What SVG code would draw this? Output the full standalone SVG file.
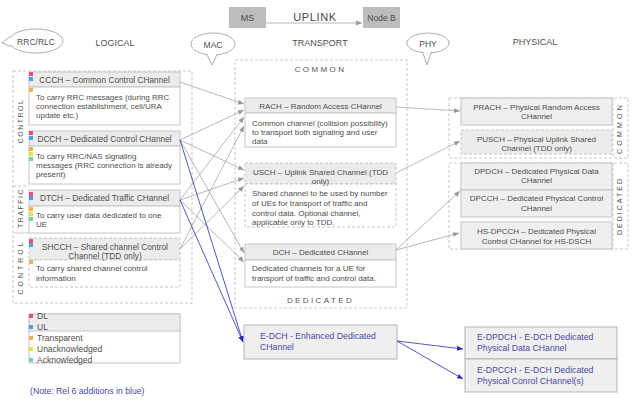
<svg xmlns="http://www.w3.org/2000/svg" width="640" height="404" viewBox="0 0 640 404">
<defs>
<marker id="ag" markerUnits="userSpaceOnUse" markerWidth="6" markerHeight="5" refX="6" refY="2.5" orient="auto"><path d="M0,0 L6,2.5 L0,5 z" fill="#9a9a9a"/></marker>
<marker id="ab" markerUnits="userSpaceOnUse" markerWidth="6" markerHeight="5" refX="6" refY="2.5" orient="auto"><path d="M0,0 L6,2.5 L0,5 z" fill="#2a2ab8"/></marker>
<style>
text{font-family:"Liberation Sans",Arial,sans-serif;font-size:8px;fill:#4e4e4e}
.c{text-anchor:middle}
.lbl{font-size:9px;fill:#505050}
.hdr{fill:#ececec;stroke:#c6c6c6;stroke-width:1}
.bdy{fill:#fff;stroke:#c6c6c6;stroke-width:1}
.dh{fill:#ececec;stroke:#c6c6c6;stroke-width:1;stroke-dasharray:3,2}
.db{fill:#fff;stroke:#c6c6c6;stroke-width:1;stroke-dasharray:3,2}
.reg{fill:none;stroke:#c8c8c8;stroke-width:1;stroke-dasharray:3,2}
.ph{fill:#efefef;stroke:#c2c2c2;stroke-width:1}
.eb{fill:#efefef;stroke:#b4b4b4;stroke-width:1}
.bt{fill:#4a4aa8;font-size:8.7px}
.sp{font-size:7px;letter-spacing:1.5px;fill:#555}
.sp2{font-size:8px;letter-spacing:2.4px;fill:#555}
.conn line{stroke:#a4a4a4;stroke-width:0.8;marker-end:url(#ag)}
.conn line.b{stroke:#2a2ab8;stroke-width:0.8;marker-end:url(#ab)}
.r{fill:#e8507a}.u{fill:#46a0e6}.o{fill:#f2b24e}.y{fill:#e2e63c}.g{fill:#6fd4a4}
.bub{fill:#fff;stroke:#9a9a9a;stroke-width:0.8}
</style>
</defs>
<rect width="640" height="404" fill="#fff"/>

<!-- top -->
<g id="ms"><rect x="229" y="7" width="37" height="21" fill="#bdbdbd"/><text x="247.5" y="21" class="c" style="font-size:9px">MS</text></g>
<g id="nodeb"><rect x="363" y="7" width="37" height="21" fill="#bdbdbd"/><text x="381.5" y="21" class="c" style="font-size:8.5px">Node B</text></g>
<text x="315" y="21" class="c" style="font-size:11px;letter-spacing:0.6px;fill:#4a4a4a">UPLINK</text>

<!-- callouts -->
<g id="rrc"><ellipse cx="36" cy="41" rx="27" ry="12" class="bub"/><path d="M10,37 L2,43 L11,46" fill="#fff" stroke="none"/><path d="M10.2,36.5 L2,43 L11,46.5" fill="none" stroke="#9a9a9a" stroke-width="0.8"/><text x="36" y="44.5" class="c" style="font-size:8.5px">RRC/RLC</text></g>
<g id="mac"><ellipse cx="213" cy="44" rx="22" ry="11" class="bub"/><path d="M207,54 L212,65 L217,54" fill="#fff" stroke="none"/><path d="M206.5,53.8 L212,65 L217,54.3" fill="none" stroke="#9a9a9a" stroke-width="0.8"/><text x="213" y="47.5" class="c" style="font-size:8.5px">MAC</text></g>
<g id="phy"><ellipse cx="428" cy="43" rx="21" ry="10" class="bub"/><path d="M423,52 L427,65 L431,52" fill="#fff" stroke="none"/><path d="M422.5,51.8 L427,65 L431.5,52" fill="none" stroke="#9a9a9a" stroke-width="0.8"/><text x="428" y="46.5" class="c" style="font-size:8.5px">PHY</text></g>

<text x="115" y="46" class="c lbl">LOGICAL</text>
<text x="320" y="46" class="c lbl">TRANSPORT</text>
<text x="535" y="45" class="c lbl">PHYSICAL</text>

<!-- logical region -->
<g id="logical">
<rect x="13" y="71" width="179" height="232" class="reg"/>
<line x1="13" y1="186" x2="29" y2="186" stroke="#c8c8c8" stroke-dasharray="3,2"/>
<line x1="13" y1="233" x2="29" y2="233" stroke="#c8c8c8"/>
<text transform="translate(23,121) rotate(-90)" class="c sp">CONTROL</text>
<text transform="translate(23,208) rotate(-90)" class="c sp">TRAFFIC</text>
<text transform="translate(23,267) rotate(-90)" class="c sp" style="letter-spacing:3px">CONTROL</text>
</g>

<g id="ccch">
<rect x="29" y="72" width="151" height="15" class="hdr"/><rect x="29" y="87" width="151" height="38" class="bdy"/>
<text x="104.5" y="82.5" class="c" style="font-size:8.3px">CCCH – Common Control CHannel</text>
<text x="36" y="100">To carry RRC messages (during RRC</text>
<text x="36" y="109">connection establishment, cell/URA</text>
<text x="36" y="117.5">update etc.)</text>
<rect x="29" y="72" width="4" height="4" class="r"/><rect x="29" y="77" width="4" height="4" class="u"/><rect x="29" y="88" width="4" height="4" class="o"/>
</g>
<g id="dcch">
<rect x="29" y="131" width="151" height="15" class="hdr"/><rect x="29" y="146" width="151" height="38" class="bdy"/>
<text x="104.5" y="141.5" class="c" style="font-size:8.3px">DCCH – Dedicated Control CHannel</text>
<text x="36" y="159">To carry RRC/NAS signaling</text>
<text x="36" y="168">messages (RRC connection is already</text>
<text x="36" y="177">present)</text>
<rect x="29" y="131" width="4" height="4" class="r"/><rect x="29" y="136" width="4" height="4" class="u"/><rect x="29" y="147" width="4" height="4" class="o"/><rect x="29" y="152" width="4" height="4" class="y"/><rect x="29" y="157" width="4" height="4" class="g"/>
</g>
<g id="dtch">
<rect x="29" y="190" width="151" height="16" class="hdr"/><rect x="29" y="206" width="151" height="27" class="bdy"/>
<text x="104.5" y="201" class="c" style="font-size:8.3px">DTCH – Dedicated Traffic CHannel</text>
<text x="36" y="218">To carry user data dedicated to one</text>
<text x="36" y="226.5">UE</text>
<rect x="29" y="192" width="4" height="4" class="r"/><rect x="29" y="196" width="4" height="4" class="u"/><rect x="29" y="207" width="4" height="4" class="o"/><rect x="29" y="212" width="4" height="4" class="y"/><rect x="29" y="217" width="4" height="4" class="g"/>
</g>
<g id="shcch">
<rect x="29" y="238" width="151" height="22" class="dh"/><rect x="29" y="260" width="151" height="27" class="db"/>
<text x="105" y="250" class="c" style="font-size:8.3px">SHCCH – Shared channel Control</text>
<text x="105" y="259" class="c" style="font-size:8.3px">Channel (TDD only)</text>
<text x="36" y="271">To carry shared channel control</text>
<text x="36" y="281">information</text>
<rect x="29" y="239" width="4" height="4" class="r"/><rect x="29" y="243" width="4" height="4" class="u"/><rect x="29" y="260" width="4" height="4" class="o"/>
</g>

<g id="legend">
<rect x="29" y="314" width="151" height="49" class="bdy"/><rect x="29" y="314" width="151" height="17" class="hdr"/>
<rect x="29" y="314" width="4" height="4" class="r"/><text x="37" y="319" style="font-size:8.5px">DL</text>
<rect x="29" y="325" width="4" height="4" class="u"/><text x="37" y="330" style="font-size:8.5px">UL</text>
<rect x="29" y="336" width="4" height="4" class="o"/><text x="37" y="341" style="font-size:8.5px">Transparent</text>
<rect x="29" y="347" width="4" height="4" class="y"/><text x="37" y="352" style="font-size:8.5px">Unacknowledged</text>
<rect x="29" y="358" width="4" height="4" class="g"/><text x="37" y="363" style="font-size:8.5px">Acknowledged</text>
</g>
<text x="30" y="394" class="bt">(Note: Rel 6 additions in blue)</text>

<!-- transport -->
<g id="transport">
<rect x="235" y="60" width="172" height="248" class="reg"/>
<text x="320.5" y="72" class="c sp2">COMMON</text>
<text x="320.5" y="303" class="c sp2">DEDICATED</text>
</g>
<g id="rach">
<rect x="245" y="98" width="151" height="15" class="hdr"/><rect x="245" y="113" width="151" height="34" class="bdy"/>
<text x="320.5" y="109" class="c">RACH – Random Access CHannel</text>
<text x="252" y="126">Common channel (collision possibility)</text>
<text x="252" y="135">to transport both signaling and user</text>
<text x="252" y="144">data</text>
</g>
<g id="usch">
<rect x="245" y="163" width="151" height="21" class="dh"/><rect x="245" y="184" width="151" height="43" class="db"/>
<text x="320.5" y="175" class="c">USCH – Uplink Shared Channel (TDD</text>
<text x="320.5" y="184" class="c">only)</text>
<text x="252" y="196">Shared channel to be used by number</text>
<text x="252" y="206">of UEs for transport of traffic and</text>
<text x="252" y="216">control data. Optional channel,</text>
<text x="252" y="225">applicable only to TDD.</text>
</g>
<g id="dch">
<rect x="245" y="244" width="151" height="16" class="hdr"/><rect x="245" y="260" width="151" height="27" class="bdy"/>
<text x="320.5" y="255" class="c">DCH – Dedicated CHannel</text>
<text x="252" y="271">Dedicated channels for a UE for</text>
<text x="252" y="281">transport of traffic and control data.</text>
</g>
<g id="edch">
<rect x="244" y="325" width="153" height="34" class="eb"/>
<text x="260" y="339" class="bt">E-DCH - Enhanced Dedicated</text>
<text x="260" y="350" class="bt">CHannel</text>
</g>

<!-- physical -->
<g id="physical">
<rect x="449" y="98" width="179" height="60" class="reg"/>
<rect x="449" y="163" width="179" height="86" class="reg"/>
<line x1="613" y1="98" x2="613" y2="158" stroke="#c8c8c8" stroke-dasharray="3,2"/>
<line x1="613" y1="163" x2="613" y2="249" stroke="#c8c8c8" stroke-dasharray="3,2"/>
<text transform="translate(622,128) rotate(-90)" class="c sp" style="letter-spacing:3.2px">COMMON</text>
<text transform="translate(622,206) rotate(-90)" class="c sp" style="letter-spacing:2px">DEDICATED</text>
</g>
<g id="prach"><rect x="461" y="98" width="151" height="27" class="ph"/>
<text x="536.5" y="110" class="c">PRACH – Physical Random Access</text><text x="536.5" y="119" class="c">CHannel</text></g>
<g id="pusch"><rect x="461" y="130" width="151" height="24" class="dh"/>
<text x="536.5" y="142" class="c">PUSCH – Physical Uplink Shared</text><text x="536.5" y="151" class="c">Channel (TDD only)</text></g>
<g id="dpdch"><rect x="461" y="163" width="151" height="27" class="ph"/>
<text x="536.5" y="174" class="c">DPDCH – Dedicated Physical Data</text><text x="536.5" y="183" class="c">CHannel</text></g>
<g id="dpcch"><rect x="461" y="190" width="151" height="27" class="ph"/>
<text x="536.5" y="201" class="c">DPCCH – Dedicated Physical Control</text><text x="536.5" y="211" class="c">CHannel</text></g>
<g id="hsdpcch"><rect x="461" y="222" width="151" height="27" class="ph"/>
<text x="536.5" y="234" class="c">HS-DPCCH – Dedicated Physical</text><text x="536.5" y="244" class="c">Control CHannel for HS-DSCH</text></g>
<g id="edpdch"><rect x="465" y="327" width="152" height="32" class="eb"/>
<text x="477" y="340" class="bt">E-DPDCH - E-DCH Dedicated</text><text x="477" y="351" class="bt">Physical Data CHannel</text></g>
<g id="edpcch"><rect x="465" y="359" width="152" height="33" class="eb"/>
<text x="477" y="373" class="bt">E-DPCCH - E-DCH Dedicated</text><text x="477" y="384" class="bt">Physical Conrol CHannel(s)</text></g>

<!-- connectors -->
<g id="connectors" class="conn">
<line x1="266" y1="23" x2="362" y2="23"/>
<line x1="180" y1="82" x2="244" y2="104"/>
<line x1="180" y1="140" x2="244" y2="110"/>
<line x1="180" y1="200" x2="244" y2="117"/>
<line x1="180" y1="249" x2="244" y2="126"/>
<line x1="180" y1="140" x2="244" y2="170"/>
<line x1="180" y1="200" x2="244" y2="178"/>
<line x1="180" y1="249" x2="244" y2="186"/>
<line x1="180" y1="140" x2="244" y2="253"/>
<line x1="180" y1="200" x2="244" y2="262"/>
<line class="b" x1="180" y1="140" x2="243" y2="342"/>
<line class="b" x1="180" y1="200" x2="243" y2="342"/>
<line x1="396" y1="107" x2="460" y2="111"/>
<line x1="396" y1="173" x2="460" y2="141"/>
<line x1="396" y1="250" x2="460" y2="191"/>
<line x1="396" y1="250" x2="459" y2="233"/>
<line class="b" x1="397" y1="341" x2="463" y2="349"/>
<line class="b" x1="397" y1="341" x2="463" y2="379"/>
</g>
</svg>
